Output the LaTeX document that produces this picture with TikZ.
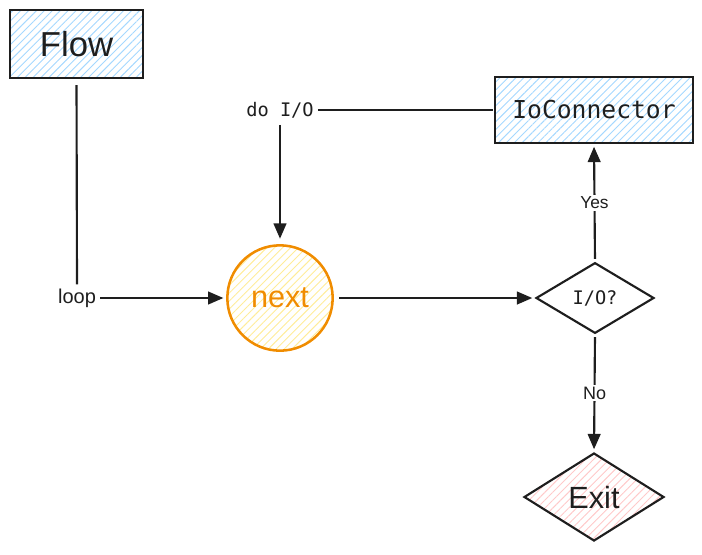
\documentclass[tikz,border=0pt]{standalone}
\usepackage{fontspec}
\setmainfont{Liberation Sans}
\newfontfamily\codefont{DejaVu Sans Mono}
\usepackage{tikz}
\usepackage{xcolor}
\usetikzlibrary{shapes.geometric, arrows.meta, patterns.meta}

\definecolor{ink}{RGB}{30,30,30}
\definecolor{hatchblue}{RGB}{165,216,255}
\definecolor{hatchyellow}{RGB}{255,236,153}
\definecolor{hatchred}{RGB}{255,201,201}
\definecolor{strokeorange}{RGB}{240,140,0}

\begin{document}
\begin{tikzpicture}[x=0.75pt,y=0.75pt,yscale=-1,xscale=1,
    hatch/.style={pattern={Lines[angle=45,distance=4.2pt,line width=0.7pt]},pattern color=#1},
    box/.style={draw=ink,line width=1.6pt,rectangle,inner sep=0pt,text=ink},
    flowarrow/.style={draw=ink,line width=1.6pt,-{Triangle[length=11.5pt,width=9.5pt]}},
    flowline/.style={draw=ink,line width=1.6pt},
    lbl/.style={text=ink,inner sep=1.5pt,fill=white}]
    %set diagram left start at 0, and has size of 702 x 554
    \useasboundingbox (0,0) rectangle (702,554);

    %Rect [Flow]
    \node [box,hatch=hatchblue,minimum width=99.75pt,minimum height=51pt] (flow) at (76.5,44) {\fontsize{26}{30}\selectfont Flow};
    %Rect [IoConnector]
    \node [box,hatch=hatchblue,minimum width=148.5pt,minimum height=49.5pt] (ioconn) at (594,110) {\codefont\fontsize{18.5}{22}\selectfont IoConnector};
    %Circle [next]
    \node [circle,draw=strokeorange,line width=1.9pt,hatch=hatchyellow,minimum size=79pt,inner sep=0pt,text=strokeorange] (next) at (280,298) {\fontsize{23}{27}\selectfont next};
    %Diamond [I/O?]
    \node [diamond,draw=ink,line width=1.6pt,minimum width=88.5pt,minimum height=53pt,inner sep=0pt,text=ink] (check) at (595,298) {\codefont\fontsize{14}{17}\selectfont I/O?};
    %Diamond [Exit]
    \node [diamond,draw=ink,line width=1.6pt,hatch=hatchred,minimum width=105pt,minimum height=66pt,inner sep=0pt,text=ink] (exit) at (594,497) {\fontsize{23}{27}\selectfont Exit};

    % Text Node
    \node [text=ink,inner sep=1pt] (doio) at (280,110) {\codefont\fontsize{14}{17}\selectfont do I/O};
    % Text Node
    \node [text=ink,inner sep=1pt] (loop) at (77,298) {\fontsize{15}{18}\selectfont loop};

    %Straight Lines
    \draw [flowline,shorten <=5pt,shorten >=2pt] (flow.south) -- (loop.north);
    \draw [flowarrow,shorten <=2pt,shorten >=2pt] (loop.east) -- (next.west);
    \draw [flowline,shorten <=1pt,shorten >=2pt] (ioconn.west) -- (doio.east);
    \draw [flowarrow,shorten <=4pt,shorten >=4pt] (doio.south) -- (next.north);
    \draw [flowarrow,shorten <=4pt,shorten >=2pt] (next.east) -- (check.west);
    \draw [flowarrow,shorten <=2pt,shorten >=2pt] (check.north) -- node [lbl] {\fontsize{13}{16}\selectfont Yes} (ioconn.south);
    \draw [flowarrow,shorten <=2pt,shorten >=2pt] (check.south) -- node [lbl] {\fontsize{13.5}{16}\selectfont No} (exit.north);
\end{tikzpicture}
\end{document}
